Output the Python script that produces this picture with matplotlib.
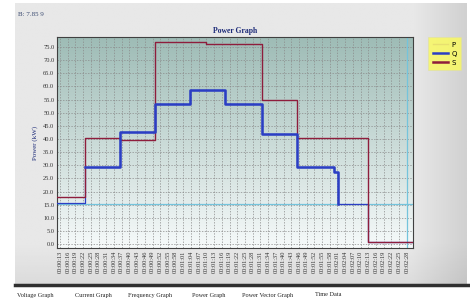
import numpy as np
import matplotlib
matplotlib.use("Agg")
from matplotlib import pyplot as plt
from matplotlib.lines import Line2D

# time axis labels (one every sample tick)
time_labels = ["00:00:13", "00:00:16", "00:00:19", "00:00:22", "00:00:25", "00:00:28",
               "00:00:31", "00:00:34", "00:00:37", "00:00:40", "00:00:43", "00:00:46",
               "00:00:49", "00:00:52", "00:00:55", "00:00:58", "00:01:01", "00:01:04",
               "00:01:07", "00:01:10", "00:01:13", "00:01:16", "00:01:19", "00:01:22",
               "00:01:25", "00:01:28", "00:01:31", "00:01:34", "00:01:37", "00:01:40",
               "00:01:43", "00:01:46", "00:01:49", "00:01:52", "00:01:55", "00:01:58",
               "00:02:01", "00:02:04", "00:02:07", "00:02:10", "00:02:13", "00:02:16",
               "00:02:19", "00:02:22", "00:02:25", "00:02:28"]

# step series: breakpoints (in tick units) and values (kW)
s_t = [-0.4, 3.25, 7.8, 12.3, 19.0, 26.2, 30.8, 40.0, 45.8]
s_v = [18.0, 40.3, 39.6, 76.8, 76.2, 55.0, 40.5, 0.6, 0.6]

p_t = [-0.4, 3.25, 7.8, 12.3, 16.9, 21.4, 26.2, 30.8, 35.5, 36.1, 40.0, 45.8]
p_v = [15.6, 29.2, 42.5, 53.3, 58.6, 53.3, 41.7, 29.3, 27.4, 15.2, 0.6, 0.6]

q_t = [-0.4, 45.8]
q_v = [15.2, 15.2]
cursor_t = 45.0

yticks = [0, 5, 10, 15, 20, 25, 30, 35, 40, 45, 50, 55, 60, 65, 70, 75]

red = "#8e1d3c"
blue = "#2b3ec4"
cyan = "#74c4dc"
navy = "#1c2a78"
serif = "Liberation Serif"

fig = plt.figure(figsize=(4.70, 3.02), dpi=100)
fig.patch.set_facecolor("white")

# window panel background (light grey, darker to the right edge)
bg = fig.add_axes([15 / 470, 17 / 302, 452 / 470, 282 / 302], zorder=-10)
gx = np.linspace(0, 1, 200)
gy = np.linspace(0, 1, 200)
GX, GY = np.meshgrid(gx, gy)
shade = 0.91 - 0.09 * np.clip((GX - 0.88) / 0.12, 0, 1) - 0.05 * np.clip((GY - 0.85) / 0.15, 0, 1)
bg.imshow(shade, cmap="gray", vmin=0, vmax=1, aspect="auto", extent=[0, 1, 0, 1],
          origin="upper")
bg.set_xlim(0, 1)
bg.set_ylim(0, 1)
bg.axis("off")

ax = fig.add_axes([57 / 470, 1 - 248 / 302, 356 / 470, 211 / 302])

# plot area gradient: grey-teal at top fading to white at the bottom
top = np.array([158, 188, 182]) / 255.0
bot = np.array([246, 250, 250]) / 255.0
f = np.linspace(0, 1, 256)[:, None]
grad = (top * (1 - f) + bot * f)[:, None, :]
ax.imshow(grad, aspect="auto", extent=[0, 1, 0, 1], transform=ax.transAxes,
          zorder=0, origin="upper")

ax.set_xlim(-0.4, 45.8)
ax.set_ylim(-1.5, 78.8)

ax.grid(True, color="#8a8a8a", lw=0.5, linestyle=(0, (2, 2)), zorder=1)

ax.axhline(q_v[0], color=cyan, lw=0.9, zorder=2)
ax.axvline(cursor_t, color=cyan, lw=0.9, zorder=2)

ax.step(p_t, p_v, where="post", color=blue, lw=0.9, zorder=3)
ax.step(s_t, s_v, where="post", color=red, lw=1.0, zorder=4)
ax.step(p_t[1:10], p_v[1:10], where="post", color=blue, lw=1.8, zorder=5)

ax.set_xticks(range(len(time_labels)))
ax.set_xticklabels(time_labels, rotation=90, fontsize=4.6, family=serif, color="#333333")
ax.set_yticks(yticks)
ax.set_yticklabels(["%.1f" % v for v in yticks], fontsize=4.6, family=serif, color="#333333")
ax.tick_params(length=0, pad=2)
for sp in ax.spines.values():
    sp.set_color("#404040")
    sp.set_linewidth(0.8)

ax.set_ylabel("Power (kW)", fontsize=5, color=navy, family=serif, labelpad=4)

fig.text(235 / 470, 1 - 31 / 302, "Power Graph", ha="center", va="center",
         fontsize=5.5, fontweight="bold", color=navy, family=serif)
fig.text(18 / 470, 1 - 15 / 302, "B: 7.85 9", ha="left", va="center",
         fontsize=5, color="#3a4a70", family=serif)

handles = [Line2D([], [], color="#e8e070", lw=1.0),
           Line2D([], [], color=blue, lw=1.8),
           Line2D([], [], color=red, lw=1.8)]
leg = fig.legend(handles, ["P", "Q", "S"], loc="upper left",
                 bbox_to_anchor=(425 / 470, 1 - 34 / 302), fontsize=5,
                 handlelength=2.2, handletextpad=0.5, borderpad=0.6,
                 labelspacing=0.45, frameon=True, fancybox=False)
leg.get_frame().set_facecolor("#fbfb5a")
leg.get_frame().set_edgecolor("#e0e0a0")
leg.get_frame().set_linewidth(0.5)

# bottom bar and tabs
fig.add_artist(Line2D([15 / 470, 1], [1 - 285 / 302] * 2, color="#303030", lw=2.5))
tabs = ["Voltage Graph", "Current Graph", "Frequency Graph", "Power Graph",
        "Power Vector Graph", "Time Data"]
tab_x = [17, 75, 128, 192, 242, 315]
for tx, tl in zip(tab_x, tabs):
    fig.text(tx / 470, 1 - 295 / 302, tl, ha="left", va="center", fontsize=4.5,
             family=serif, color="#222222")

fig.savefig("out.png", dpi=100)
